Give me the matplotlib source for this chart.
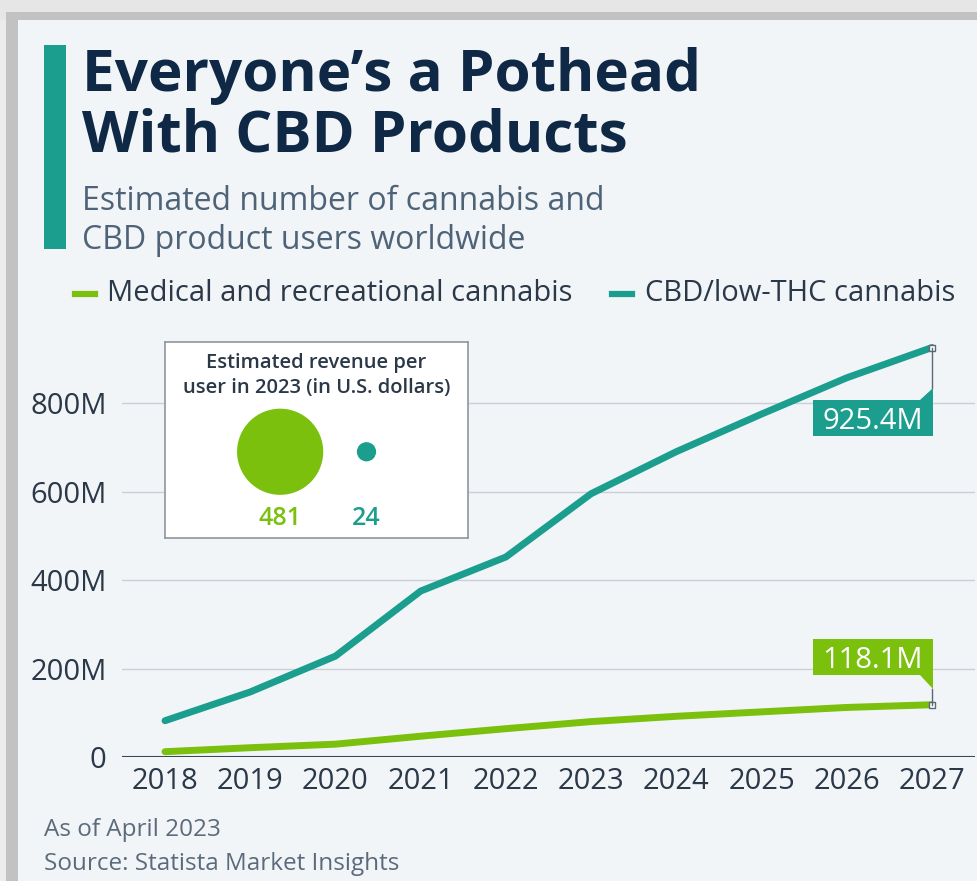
import matplotlib.pyplot as plt
from matplotlib.patches import Rectangle, Polygon

# ── Data ──────────────────────────────────────────────────────────────────────

years = [2018, 2019, 2020, 2021, 2022, 2023, 2024, 2025, 2026, 2027]
cbd_users = [82, 147, 228, 375, 452, 595, 690, 775, 857, 925.4]          # millions
medical_users = [12, 21, 29, 47, 64, 80, 92, 102, 112, 118.1]            # millions

series_names = ["Medical and recreational cannabis", "CBD/low-THC cannabis"]
revenue_per_user = [481, 24]                                             # USD, 2023

y_ticks = [0, 200, 400, 600, 800]
y_tick_labels = ["0", "200M", "400M", "600M", "800M"]

# ── Style ─────────────────────────────────────────────────────────────────────

W, H = 977, 881
GREEN = "#7bc00d"
TEAL = "#1b9e8e"
NAVY = "#0f2845"
SUBGRAY = "#4f6378"
TEXT = "#2a3848"
BG = "#f2f5f8"
FONT = "Open Sans"

plt.rcParams["font.family"] = [FONT, "DejaVu Sans"]


def fx(x):
    return x / W


def fy(y):
    return 1 - y / H


def bg_rect(x0, y0, x1, y1, color):
    fig.patches.append(Rectangle((fx(x0), fy(y1)), fx(x1 - x0), fy(y0) - fy(y1),
                                 transform=fig.transFigure, facecolor=color,
                                 edgecolor="none", zorder=-5))


fig = plt.figure(figsize=(W / 100, H / 100), dpi=100)
fig.patch.set_facecolor("#ececec")

# screenshot frame + card background
bg_rect(0, 0, W, 20, "#e6e6e6")
bg_rect(6, 12, W, 20, "#c2c2c2")
bg_rect(6, 12, 18, H, "#c2c2c2")
bg_rect(18, 20, W, H, BG)

# title block
fig.patches.append(Rectangle((fx(44), fy(249)), fx(22), fy(45) - fy(249),
                             transform=fig.transFigure, facecolor=TEAL, edgecolor="none"))
fig.text(fx(82), fy(91), "Everyone’s a Pothead", fontsize=42, fontweight="bold",
         color=NAVY, va="baseline", ha="left")
fig.text(fx(82), fy(152), "With CBD Products", fontsize=42, fontweight="bold",
         color=NAVY, va="baseline", ha="left")
fig.text(fx(82), fy(210), "Estimated number of cannabis and", fontsize=23,
         color=SUBGRAY, va="baseline", ha="left")
fig.text(fx(82), fy(249), "CBD product users worldwide", fontsize=23,
         color=SUBGRAY, va="baseline", ha="left")

# legend
legend_items = [(75, 107, GREEN, series_names[0]), (612, 645, TEAL, series_names[1])]
for x0, xt, col, name in legend_items:
    fig.add_artist(plt.Line2D([fx(x0), fx(x0 + 20)], [fy(294), fy(294)], color=col,
                              linewidth=4.5, transform=fig.transFigure))
    fig.text(fx(xt), fy(294), name, fontsize=21, color=TEXT, va="center", ha="left")

# ── Main chart ────────────────────────────────────────────────────────────────

ax_l, ax_r, ax_b, ax_t = 122, 975, 757, 330
ax = fig.add_axes([fx(ax_l), fy(ax_b), fx(ax_r - ax_l), fy(ax_t) - fy(ax_b)])
ax.set_facecolor("none")
px_per_year = (932 - 165) / 9
ax.set_xlim(2018 - (165 - ax_l) / px_per_year, 2027 + (ax_r - 932) / px_per_year)
px_per_m = 88.5 / 200
ax.set_ylim(0, (ax_b - ax_t) / px_per_m)

for t in y_ticks[1:]:
    ax.axhline(t, color="#c9d0d7", linewidth=1.0, zorder=1)
ax.axhline(0, color="#3b4757", linewidth=1.5, zorder=1)

ax.plot(years, cbd_users, color=TEAL, linewidth=5, solid_capstyle="round",
        solid_joinstyle="round", zorder=3, clip_on=False)
ax.plot(years, medical_users, color=GREEN, linewidth=5, solid_capstyle="round",
        solid_joinstyle="round", zorder=3, clip_on=False)

ax.set_yticks(y_ticks)
ax.set_yticklabels(y_tick_labels)
ax.set_xticks(years)
ax.tick_params(axis="both", length=0, labelsize=21, colors=TEXT)
ax.tick_params(axis="y", pad=11)
ax.tick_params(axis="x", pad=7)
for s in ax.spines.values():
    s.set_visible(False)

# end-of-line value labels with callout notches
fig.canvas.draw()
inv = fig.transFigure.inverted()


def callout(value, col, above):
    px, py = ax.transData.transform((years[-1], value))
    x_r = px + 1
    x_l = x_r - 120
    if above:
        bot = py + 30
        top = bot + 36
        notch = [(x_r - 13, bot), (x_r, bot), (x_r, bot - 14)]
        line_end = bot - 14
    else:
        top = py - 52
        bot = top - 36
        notch = [(x_r - 13, top), (x_r, top), (x_r, top + 12)]
        line_end = top + 12
    box = [(x_l, bot), (x_r, bot), (x_r, top), (x_l, top)]
    for shape in (box, notch):
        fig.patches.append(Polygon([inv.transform(p) for p in shape], closed=True,
                                   transform=fig.transFigure, facecolor=col,
                                   edgecolor="none", zorder=2))
    a = inv.transform((px, py))
    b = inv.transform((px, line_end))
    fig.add_artist(plt.Line2D([a[0], b[0]], [a[1], b[1]], color="#5d6877",
                              linewidth=1.0, transform=fig.transFigure, zorder=2))
    c = inv.transform(((x_l + x_r) / 2, (top + bot) / 2))
    fig.text(c[0], c[1], f"{value:.1f}M", color="white", fontsize=21,
             ha="center", va="center_baseline", zorder=3)
    ax.plot([years[-1]], [value], marker="s", markersize=4.5, markerfacecolor="white",
            markeredgecolor="#5d6877", markeredgewidth=1.0, zorder=5, clip_on=False)


callout(medical_users[-1], GREEN, above=True)
callout(cbd_users[-1], TEAL, above=False)

# ── Revenue per user inset ────────────────────────────────────────────────────

ins = fig.add_axes([fx(165), fy(538), fx(468 - 165), fy(342) - fy(538)])
ins.set_facecolor("white")
ins.set_xlim(0, 1)
ins.set_ylim(0, 1)
ins.set_xticks([])
ins.set_yticks([])
for s in ins.spines.values():
    s.set_color("#8e969e")
    s.set_linewidth(1.2)
ins.text(0.5, 0.895, "Estimated revenue per", fontsize=14.5, fontweight="semibold",
         color=TEXT, ha="center", va="center")
ins.text(0.5, 0.765, "user in 2023 (in U.S. dollars)", fontsize=14.5,
         fontweight="semibold", color=TEXT, ha="center", va="center")
bubble_x = [0.38, 0.665]
bubble_scale = 3850 / max(revenue_per_user)
ins.scatter(bubble_x, [0.44, 0.44], s=[v * bubble_scale for v in revenue_per_user],
            c=[GREEN, TEAL], linewidths=0, zorder=3)
for bx, v, col in zip(bubble_x, revenue_per_user, [GREEN, TEAL]):
    ins.text(bx, 0.10, f"{v}", fontsize=18, fontweight="semibold", color=col,
             ha="center", va="center")

# ── Footer ────────────────────────────────────────────────────────────────────

fig.text(fx(44), fy(836), "As of April 2023", fontsize=17.5, color="#5b6b7c",
         va="baseline", ha="left")
fig.text(fx(44), fy(870), "Source: Statista Market Insights", fontsize=17.5,
         color="#5b6b7c", va="baseline", ha="left")

fig.savefig("out.png", dpi=100, facecolor=fig.get_facecolor())
